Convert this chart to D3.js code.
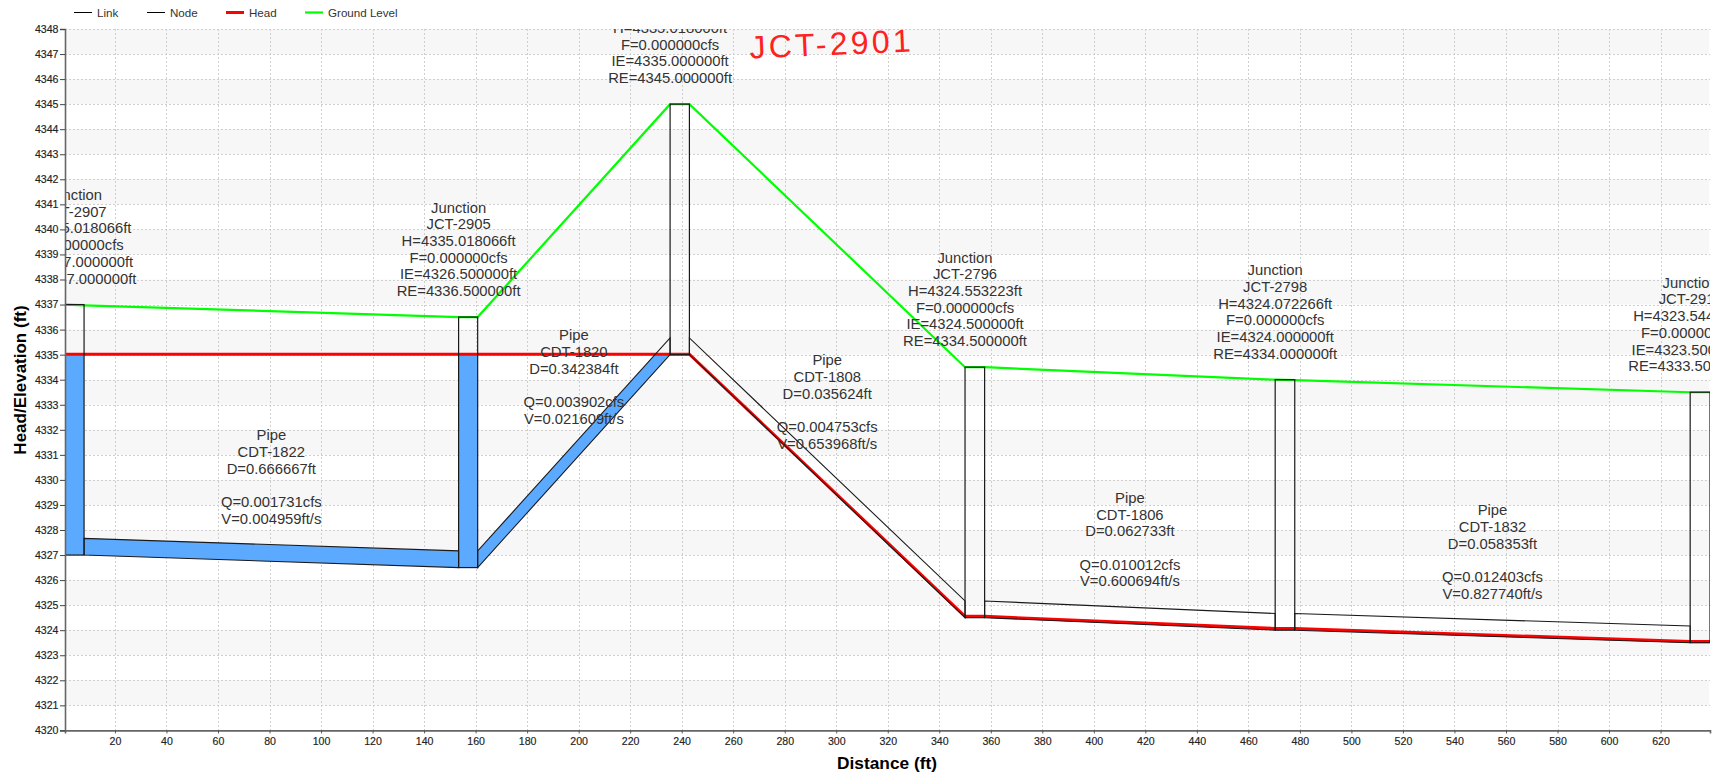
<!DOCTYPE html>
<html><head><meta charset="utf-8">
<script src="https://cdnjs.cloudflare.com/ajax/libs/d3/7.8.5/d3.min.js"></script>
<style>
html,body{margin:0;padding:0;background:#fff;overflow:hidden}
text{font-family:"Liberation Sans",Arial,sans-serif}
</style></head><body><svg id="c" width="1716" height="776"></svg>
<script>
const nodeIds    = ["JCT-2907","JCT-2905","JCT-2901","JCT-2796","JCT-2798","JCT-2911"];
const nodeLeft   = [0.6,153.4,235.5,350,470.4,631.5];
const nodeRight  = [8,160.8,243,357.6,478,639.2];
const nodeLabelX = [4.3,153.4,235.5,350,470.4,631.5];
const nodeInvert = [4327,4326.5,4335,4324.5,4324,4323.5];
const nodeRim    = [4337,4336.5,4345,4334.5,4334,4333.5];
const nodeHead   = ["4335.018066","4335.018066","4335.018066","4324.553223","4324.072266","4323.544189"];
const pipeIds    = ["CDT-1822","CDT-1820","CDT-1808","CDT-1806","CDT-1832"];
const pipeDepth  = [0.666667,0.666667,0.666667,0.666667,0.666667];
const pipeD      = ["0.666667","0.342384","0.035624","0.062733","0.058353"];
const pipeQ      = ["0.001731","0.003902","0.004753","0.010012","0.012403"];
const pipeV      = ["0.004959","0.021609","0.653968","0.600694","0.827740"];
const headLine   = [[0.6,4335.018],[243,4335.018],[350,4324.553],[357.6,4324.553],[470.4,4324.072],[478,4324.072],[631.5,4323.544],[639.2,4323.544]];
const groundLine = [[0.6,4337],[8,4336.97],[153.4,4336.5],[160.8,4336.5],[235.5,4345],[243,4345],[350,4334.5],[357.6,4334.5],[470.4,4334],[478,4333.98],[631.5,4333.5],[639.2,4333.5]];
const xTicks = d3.range(20,621,20);
const yTicks = d3.range(4320,4349,1);
const legendNames = ["Link","Node","Head","Ground Level"];

const svg = d3.select("#c");
const L=65,R=1710,T=29,B=730.4;
const x = d3.scaleLinear().domain([0.6,639.2]).range([L,R]);
const y = d3.scaleLinear().domain([4320,4348]).range([B,T]);
const BLUE="#5caaff", RED="#ff0000", GREEN="#00ff00";

const defs = svg.append("defs");
defs.append("clipPath").attr("id","plot").append("rect").attr("x",L).attr("y",T).attr("width",R-L).attr("height",B-T);
const underHead = d3.area().x(d=>x(d[0])).y0(B).y1(d=>y(d[1]));
defs.append("clipPath").attr("id","wet").append("path").attr("d",underHead(headLine));

// bands
svg.append("g").selectAll("rect").data(yTicks.filter(v=>v%2===1&&v<4348)).join("rect")
  .attr("x",L).attr("width",R-L-1).attr("y",d=>y(d+1)).attr("height",d=>y(d)-y(d+1)).attr("fill","#f7f7f7");
// grid
const grid = svg.append("g").attr("stroke","#cfcfcf").attr("stroke-dasharray","2,2").attr("stroke-width",1);
grid.selectAll(".h").data(yTicks.slice(1)).join("line").attr("x1",L).attr("x2",R).attr("y1",d=>Math.round(y(d))+.5).attr("y2",d=>Math.round(y(d))+.5);
grid.selectAll(".v").data(xTicks).join("line").attr("y1",T).attr("y2",B).attr("x1",d=>Math.round(x(d))+.5).attr("x2",d=>Math.round(x(d))+.5);

// geometry
const pipes = pipeIds.map((id,i)=>({id,x0:nodeRight[i],x1:nodeLeft[i+1],z0:nodeInvert[i],z1:nodeInvert[i+1],h:pipeDepth[i],D:pipeD[i],Q:pipeQ[i],V:pipeV[i]}));
const nodes = nodeIds.map((id,i)=>({id,x0:nodeLeft[i],x1:nodeRight[i],lx:nodeLabelX[i],ie:nodeInvert[i],re:nodeRim[i],H:nodeHead[i]}));
const poly = p=>d3.line()([[x(p.x0),y(p.z0)],[x(p.x1),y(p.z1)],[x(p.x1),y(p.z1+p.h)],[x(p.x0),y(p.z0+p.h)]])+"Z";

const plot = svg.append("g").attr("clip-path","url(#plot)");
const wet = plot.append("g").attr("clip-path","url(#wet)").attr("fill",BLUE);
wet.selectAll(".p").data(pipes).join("path").attr("d",poly);
wet.selectAll(".n").data(nodes).join("rect").attr("x",d=>x(d.x0)).attr("width",d=>x(d.x1)-x(d.x0)).attr("y",d=>y(d.re)).attr("height",d=>y(d.ie)-y(d.re));

const line = d3.line().x(d=>x(d[0])).y(d=>y(d[1]));
plot.append("path").attr("d",line(groundLine)).attr("fill","none").attr("stroke",GREEN).attr("stroke-width",2.2);
plot.append("path").attr("d",line(headLine)).attr("fill","none").attr("stroke",RED).attr("stroke-width",3);
plot.selectAll(".pl").data(pipes).join("path").attr("d",poly).attr("fill","none").attr("stroke","#1a1a1a").attr("stroke-width",1.1);
plot.selectAll(".nl").data(nodes).join("rect").attr("x",d=>x(d.x0)).attr("width",d=>x(d.x1)-x(d.x0)).attr("y",d=>y(d.re)).attr("height",d=>y(d.ie)-y(d.re)).attr("fill","none").attr("stroke","#1a1a1a").attr("stroke-width",1.2);

// labels
function block(g,cx,base,lines){
  const t=g.append("text").attr("text-anchor","middle").attr("font-size",14.8).attr("fill","#333");
  lines.forEach((s,i)=>{ if(s) t.append("tspan").attr("x",cx).attr("y",base+i*16.7).text(s); });
}
nodes.forEach(n=>block(plot,x(n.lx),y(n.re)-21-5*16.7,["Junction",n.id,"H="+n.H+"ft","F=0.000000cfs","IE="+n.ie.toFixed(6)+"ft","RE="+n.re.toFixed(6)+"ft"]));
pipes.forEach(p=>block(plot,x((p.x0+p.x1)/2),y((p.z0+p.z1)/2)-121,["Pipe",p.id,"D="+p.D+"ft","","Q="+p.Q+"cfs","V="+p.V+"ft/s"]));

// handwritten note
const hx=x(266.5), hy=y(4346.82);
plot.append("text").attr("transform",`translate(${hx},${hy}) rotate(-2.5)`).attr("font-family","Lato").attr("font-weight",100)
  .attr("font-size",32).attr("letter-spacing",3.2).attr("fill","#ff2020").text("JCT-2901");

// axes
const ax = svg.append("g").attr("transform",`translate(0,${B})`).call(d3.axisBottom(x).tickValues(xTicks).tickSize(3).tickPadding(4).tickFormat(d3.format("d")));
const ay = svg.append("g").attr("transform",`translate(${L},0)`).call(d3.axisLeft(y).tickValues(yTicks).tickSize(5).tickPadding(1.5).tickFormat(d3.format("d")));
[ax,ay].forEach(a=>{a.selectAll("text").attr("font-size",10.6).attr("font-family","Liberation Sans").attr("fill","#222").attr("stroke","#222").attr("stroke-width",.15);
  a.select(".domain").attr("stroke","#666").attr("stroke-width",1.6);
  a.selectAll(".tick line").attr("stroke","#555");});
ay.selectAll(".tick line").attr("stroke","#444");

svg.append("text").attr("transform","translate(26,380) rotate(-90)").attr("text-anchor","middle").attr("font-weight","bold").attr("font-size",17).attr("fill","#000").text("Head/Elevation (ft)");
svg.append("text").attr("x",887).attr("y",769).attr("text-anchor","middle").attr("font-weight","bold").attr("font-size",17.3).attr("fill","#000").text("Distance (ft)");

// legend
const legX=[74,147,226,305], legCol=["#000","#000",RED,GREEN], legW=[1,1,3,2.2];
legendNames.forEach((n,i)=>{
  svg.append("line").attr("x1",legX[i]).attr("x2",legX[i]+18).attr("y1",12.5).attr("y2",12.5).attr("stroke",legCol[i]).attr("stroke-width",legW[i]);
  svg.append("text").attr("x",legX[i]+23).attr("y",16.5).attr("font-size",11.6).attr("fill","#333").text(n);
});
</script></body></html>
